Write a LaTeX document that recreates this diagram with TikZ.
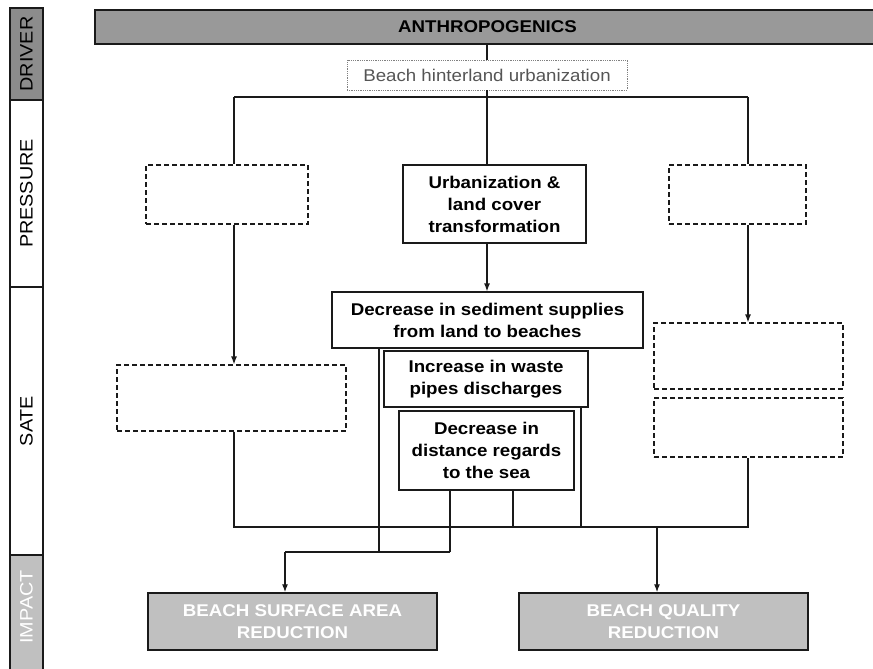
\documentclass[tikz,border=0pt]{standalone}
\usepackage{fontspec}
\setmainfont[FakeStretch=1.1]{Liberation Sans}
\usetikzlibrary{arrows.meta}

\definecolor{darkfill}{HTML}{8C8C8C}
\definecolor{barfill}{HTML}{999999}
\definecolor{lightfill}{HTML}{C0C0C0}
\definecolor{edge}{HTML}{1A1A1A}
\definecolor{hintertext}{HTML}{555555}

\tikzset{
  txt/.style={font=\fontsize{17}{21}\selectfont},
  sidetxt/.style={font=\fontsize{18}{21}\selectfont},
  btxt/.style={font=\bfseries\fontsize{17}{22}\selectfont},
  boxbase/.style={inner sep=0pt, align=center, line width=1.2pt, draw=edge},
  solidbox/.style={boxbase, btxt, fill=white},
  dashbox/.style={boxbase, dash pattern=on 5pt off 3pt},
  hintbox/.style={inner sep=0pt, align=center, draw=gray, line width=0.8pt,
                  densely dotted, txt, text=hintertext},
  barbox/.style={boxbase, fill=barfill, btxt, line width=1.4pt},
  impactbox/.style={boxbase, fill=lightfill, btxt, text=white, line width=1.4pt},
  sidebox/.style={boxbase, line width=1.2pt, rotate=90, sidetxt},
  wire/.style={line width=1.2pt, draw=edge},
  arr/.style={wire, -{Latex[length=8pt,width=6pt]}}
}

\begin{document}
\begin{tikzpicture}[x=1pt,y=-1pt]
  \useasboundingbox (0,0) rectangle (873,669);

  % side strip: DPSIR levels
  \node[sidebox, fill=darkfill, minimum width=92pt, minimum height=33pt] (sbD) at (26.5,54) {DRIVER};
  \node[sidebox, fill=white, minimum width=187pt, minimum height=33pt] (sbP) at (26.5,193.5) {PRESSURE};
  \node[sidebox, fill=white, minimum width=268pt, minimum height=33pt] (sbS) at (26.5,421) {SATE};
  \node[sidebox, fill=lightfill, minimum width=125pt, minimum height=33pt] (sbI) at (26.5,617.5) {};
  \node[sidetxt, rotate=90, text=white, inner sep=0pt] (sbIlabel) at (26.5,607) {IMPACT};

  % driver level
  \node[barbox, minimum width=785pt, minimum height=34pt] (bar) at (487.5,27) {ANTHROPOGENICS};
  \node[hintbox, minimum width=280pt, minimum height=30pt] (hinter) at (487,75) {Beach hinterland urbanization};

  % pressure level
  \node[dashbox, minimum width=162pt, minimum height=59pt] (pL) at (227,194.5) {};
  \node[solidbox, minimum width=183pt, minimum height=78pt] (pC) at (494.5,204) {Urbanization \&\\land cover\\transformation};
  \node[dashbox, minimum width=137pt, minimum height=59pt] (pR) at (737.5,194.5) {};

  % state level
  \node[solidbox, minimum width=311pt, minimum height=56pt] (sed) at (487.5,320) {Decrease in sediment supplies\\from land to beaches};
  \node[solidbox, minimum width=204pt, minimum height=56pt] (waste) at (486,379) {Increase in waste\\pipes discharges};
  \node[solidbox, minimum width=175pt, minimum height=79pt] (dist) at (486.5,450.5) {Decrease in\\distance regards\\to the sea};
  \node[dashbox, minimum width=229pt, minimum height=66pt] (sL) at (231.5,398) {};
  \node[dashbox, minimum width=189pt, minimum height=66pt] (sR1) at (748.5,356) {};
  \node[dashbox, minimum width=189pt, minimum height=59pt] (sR2) at (748.5,427.5) {};

  % impact level
  \node[impactbox, minimum width=289pt, minimum height=57pt] (iL) at (292.5,621.5) {BEACH SURFACE AREA\\REDUCTION};
  \node[impactbox, minimum width=289pt, minimum height=57pt] (iR) at (663.5,621.5) {BEACH QUALITY\\REDUCTION};

  % junction points
  \coordinate (jT) at (487,97);
  \coordinate (jL) at (234,97);
  \coordinate (jR) at (748,97);
  \coordinate (bL) at (234,527);
  \coordinate (bR) at (748,527);
  \coordinate (xWaste) at (581,0);
  \coordinate (xDist) at (513,0);
  \coordinate (kSed) at (379,552);
  \coordinate (kDist) at (450,552);
  \coordinate (kArr) at (285,552);
  \coordinate (kQual) at (657,527);

  % driver to pressures
  \draw[wire] (bar.south -| hinter.north) -- (hinter.north);
  \draw[wire] (hinter.south) -- (jT);
  \draw[wire] (jL) -- (jR);
  \draw[wire] (jL) -- (jL |- pL.north);
  \draw[wire] (jT) -- (jT |- pC.north);
  \draw[wire] (jR) -- (jR |- pR.north);

  % pressures to states
  \draw[arr] (jL |- pL.south) -- (jL |- sL.north);
  \draw[arr] (jT |- pC.south) -- (jT |- sed.north);
  \draw[arr] (jR |- pR.south) -- (jR |- sR1.north);

  % states to the collecting line
  \draw[wire] (bL |- sL.south) -- (bL) -- (bR) -- (bR |- sR2.south);
  \draw[wire] (xWaste |- waste.south) -- (xWaste |- bL);
  \draw[wire] (xDist |- dist.south) -- (xDist |- bL);

  % surface-area branch
  \draw[wire] (kSed |- sed.south) -- (kSed);
  \draw[wire] (kDist |- dist.south) -- (kDist);
  \draw[wire] (kDist) -- (kSed) -- (kArr);
  \draw[arr] (kArr) -- (kArr |- iL.north);

  % quality branch
  \draw[arr] (kQual) -- (kQual |- iR.north);
\end{tikzpicture}
\end{document}
